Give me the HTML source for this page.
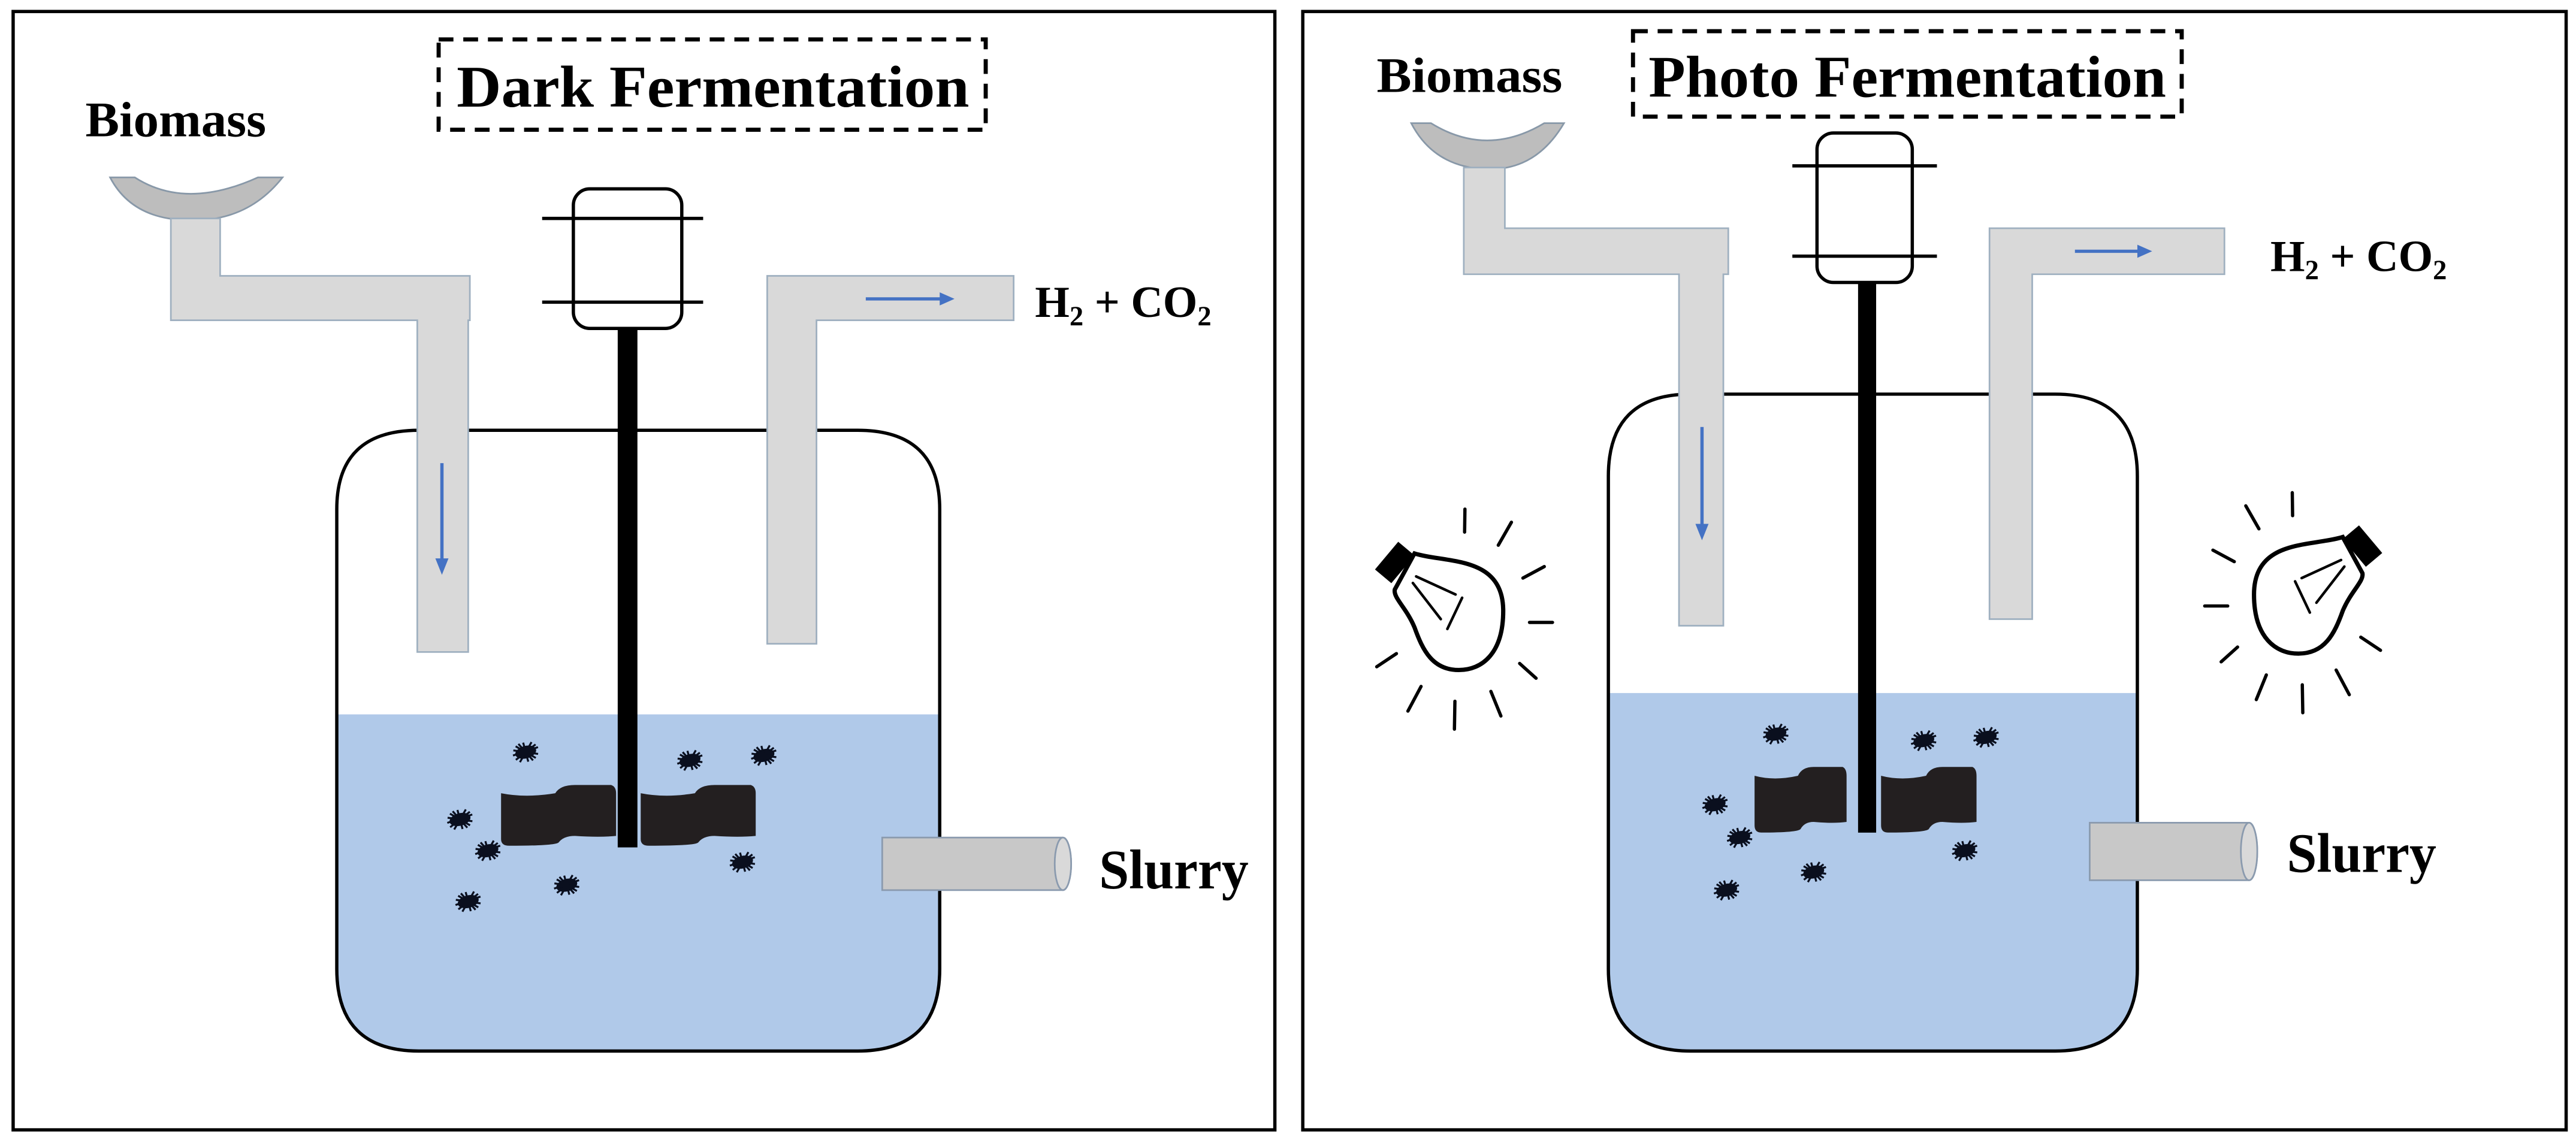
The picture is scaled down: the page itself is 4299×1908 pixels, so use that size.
<!DOCTYPE html>
<html><head><meta charset="utf-8"><style>
html,body{margin:0;padding:0;background:#fff;}
svg{display:block;}
text{font-family:"Liberation Serif",serif;font-weight:bold;fill:#000;}
</style></head><body>
<svg width="4299" height="1908" viewBox="0 0 1568 696" preserveAspectRatio="none" xmlns="http://www.w3.org/2000/svg">
<defs>
<g id="mic">
<ellipse cx="0" cy="0" rx="6.5" ry="3.8" fill="#0a0f1e" transform="rotate(-15)"/>
<path d="M-8,0 L8,-1 M-5,-5 L5,5 M-3,-6 L3,6 M5,-5 L-5,5 M0,-6 L0,6 M-7,-3 L7,3 M-7,3 L7,-3" stroke="#0a0f1e" stroke-width="1.2" transform="rotate(-15)"/>
</g>
<path id="blade" d="M0,5 Q15,8 33,5 Q36,0 45,0 L67,0 Q70,1 70,5 L70,31 Q60,32 45,31 Q38,31 35,35 Q33,37 5,37 Q0,37 0,33 Z" fill="#231f20"/>
<g id="bulb" stroke="#000" fill="#fff" stroke-linecap="round">
<path d="M861,337 C880,343 915,338 915,372 C915,398 902,408 888,408 C872,408 866,396 861,382 C856,370 848,364 849,359 Z" stroke-width="2.6"/>
<rect x="838" y="336" width="22" height="13" fill="#000" stroke="none" transform="rotate(-50 849 342.5)"/>
<path d="M862,351 L886,362 M860,355 L877,377 M890,364 L881,383" stroke-width="1.6" fill="none"/>
<path d="M891.7,310 L891.5,324 M920,318 L912,332 M940,345 L927,352 M931,379 L945,379 M925,404 L935,413 M907.5,421 L913.6,436 M885.6,427 L885.3,444 M865,418 L857,433 M850,398 L838,406" stroke-width="2" fill="none"/>
</g>
</defs>

<rect x="8" y="7" width="768" height="681" fill="none" stroke="#000" stroke-width="2"/>
<rect x="793" y="7" width="769" height="681" fill="none" stroke="#000" stroke-width="2"/>

<!-- ============ LEFT ============ -->
<rect x="267" y="24" width="333" height="55" fill="none" stroke="#000" stroke-width="2.5" stroke-dasharray="9,6"/>
<text x="434" y="65" font-size="36" text-anchor="middle" textLength="312" lengthAdjust="spacingAndGlyphs">Dark Fermentation</text>
<text x="52" y="83" font-size="30" textLength="110" lengthAdjust="spacingAndGlyphs">Biomass</text>

<path d="M205,310 Q205,262 255,262 L522,262 Q572,262 572,310 L572,590 Q572,640 522,640 L255,640 Q205,640 205,590 Z" fill="#fff"/>
<path d="M205,435 L572,435 L572,590 Q572,640 522,640 L255,640 Q205,640 205,590 Z" fill="#b0c9e9"/>
<path d="M205,310 Q205,262 255,262 L522,262 Q572,262 572,310 L572,590 Q572,640 522,640 L255,640 Q205,640 205,590 Z" fill="none" stroke="#000" stroke-width="2"/>

<path d="M67,108 L82,108 Q113,128 157,108 L172,108 Q150,136 113,134 Q80,133 67,108 Z" fill="#bdbdbd" stroke="#8898a8" stroke-width="1"/>
<path d="M104,133 L134,133 L134,168 L286,168 L286,195 L285,195 L285,397 L254,397 L254,195 L104,195 Z" fill="#d9d9d9" stroke="#9fb0c0" stroke-width="1"/>
<line x1="269" y1="282" x2="269" y2="343" stroke="#4472c4" stroke-width="2"/>
<path d="M265,340 L269,350 L273,340 Z" fill="#4472c4"/>
<path d="M467,168 L617,168 L617,195 L497,195 L497,392 L467,392 Z" fill="#d9d9d9" stroke="#9fb0c0" stroke-width="1"/>
<line x1="527" y1="182" x2="574" y2="182" stroke="#4472c4" stroke-width="2"/>
<path d="M572,178 L581,182 L572,186 Z" fill="#4472c4"/>
<text x="630" y="193" font-size="27">H<tspan font-size="17" dy="5">2</tspan><tspan dy="-5"> + CO</tspan><tspan font-size="17" dy="5">2</tspan></text>

<rect x="349" y="115" width="66" height="85" rx="10" fill="#fff" stroke="#000" stroke-width="2"/>
<line x1="330" y1="133" x2="428" y2="133" stroke="#000" stroke-width="2"/>
<line x1="330" y1="184" x2="428" y2="184" stroke="#000" stroke-width="2"/>
<rect x="376" y="200" width="12" height="316" fill="#000"/>
<use href="#blade" transform="translate(305,478)"/>
<use href="#blade" transform="translate(390,478)"/>

<use href="#mic" x="320" y="458"/><use href="#mic" x="420" y="463"/><use href="#mic" x="465" y="460"/>
<use href="#mic" x="280" y="499"/><use href="#mic" x="297" y="518"/><use href="#mic" x="345" y="539"/>
<use href="#mic" x="452" y="525"/><use href="#mic" x="285" y="549"/>

<path d="M537,510 L647,510 A5,16 0 0 1 647,542 L537,542 Z" fill="#c8c8c8" stroke="#8a9aae" stroke-width="1"/>
<ellipse cx="647" cy="526" rx="5" ry="16" fill="#d9d9d9" stroke="#8a9aae" stroke-width="1"/>
<text x="669" y="541" font-size="34" textLength="91" lengthAdjust="spacingAndGlyphs">Slurry</text>

<!-- ============ RIGHT ============ -->
<rect x="994" y="19" width="334" height="52" fill="none" stroke="#000" stroke-width="2.5" stroke-dasharray="9,6"/>
<text x="1161" y="59" font-size="36" text-anchor="middle" textLength="315" lengthAdjust="spacingAndGlyphs">Photo Fermentation</text>
<text x="838" y="56" font-size="30" textLength="113" lengthAdjust="spacingAndGlyphs">Biomass</text>

<path d="M979,290 Q979,240 1029,240 L1251,240 Q1301,240 1301,290 L1301,590 Q1301,640 1251,640 L1029,640 Q979,640 979,590 Z" fill="#fff"/>
<path d="M979,422 L1301,422 L1301,590 Q1301,640 1251,640 L1029,640 Q979,640 979,590 Z" fill="#b0c9e9"/>
<path d="M979,290 Q979,240 1029,240 L1251,240 Q1301,240 1301,290 L1301,590 Q1301,640 1251,640 L1029,640 Q979,640 979,590 Z" fill="none" stroke="#000" stroke-width="2"/>

<path d="M859,75 L871,75 Q905,96 940,75 L952,75 Q935,104 905,103 Q873,102 859,75 Z" fill="#bdbdbd" stroke="#8898a8" stroke-width="1"/>
<path d="M891,102 L916,102 L916,139 L1052,139 L1052,167 L1049,167 L1049,381 L1022,381 L1022,167 L891,167 Z" fill="#d9d9d9" stroke="#9fb0c0" stroke-width="1"/>
<line x1="1036" y1="260" x2="1036" y2="322" stroke="#4472c4" stroke-width="2"/>
<path d="M1032,319 L1036,329 L1040,319 Z" fill="#4472c4"/>
<path d="M1211,139 L1354,139 L1354,167 L1237,167 L1237,377 L1211,377 Z" fill="#d9d9d9" stroke="#9fb0c0" stroke-width="1"/>
<line x1="1263" y1="153" x2="1303" y2="153" stroke="#4472c4" stroke-width="2"/>
<path d="M1301,149 L1310,153 L1301,157 Z" fill="#4472c4"/>
<text x="1382" y="165" font-size="27">H<tspan font-size="17" dy="5">2</tspan><tspan dy="-5"> + CO</tspan><tspan font-size="17" dy="5">2</tspan></text>

<rect x="1106" y="81" width="58" height="91" rx="10" fill="#fff" stroke="#000" stroke-width="2"/>
<line x1="1091" y1="101" x2="1179" y2="101" stroke="#000" stroke-width="2"/>
<line x1="1091" y1="156" x2="1179" y2="156" stroke="#000" stroke-width="2"/>
<rect x="1131" y="172" width="11" height="335" fill="#000"/>
<use href="#blade" transform="translate(1068,467) scale(0.8,1.08)"/>
<use href="#blade" transform="translate(1145,467) scale(0.83,1.08)"/>

<use href="#mic" x="1081" y="447"/><use href="#mic" x="1171" y="451"/><use href="#mic" x="1209" y="449"/>
<use href="#mic" x="1044" y="490"/><use href="#mic" x="1059" y="510"/><use href="#mic" x="1104" y="531"/>
<use href="#mic" x="1196" y="518"/><use href="#mic" x="1051" y="542"/>

<path d="M1272,501 L1369,501 A5,17.5 0 0 1 1369,536 L1272,536 Z" fill="#c8c8c8" stroke="#8a9aae" stroke-width="1"/>
<ellipse cx="1369" cy="518.5" rx="5" ry="17.5" fill="#d9d9d9" stroke="#8a9aae" stroke-width="1"/>
<text x="1392" y="531" font-size="34" textLength="91" lengthAdjust="spacingAndGlyphs">Slurry</text>

<use href="#bulb"/>
<use href="#bulb" transform="translate(2287,-10) scale(-1,1)"/>
</svg>
</body></html>
